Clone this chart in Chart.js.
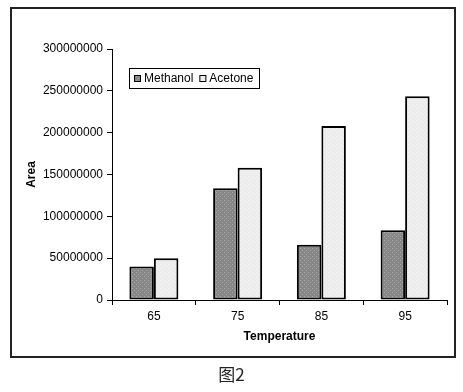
<!DOCTYPE html>
<html>
<head>
<meta charset="utf-8">
<script src="https://cdn.jsdelivr.net/npm/chart.js@4.4.0/dist/chart.umd.min.js"></script>
<style>
    body { margin: 0; background: #ffffff; width: 463px; height: 392px; overflow: hidden; position: relative; }
    #frame { position: absolute; left: 10px; top: 7px; width: 446px; height: 351px; box-sizing: border-box; border: 2px solid #222222; }
    #wrap { position: absolute; left: 0; top: 0; width: 463px; height: 392px; }
    #caption { position: absolute; left: 0; width: 463px; top: 364px; text-align: center; font-family: "Noto Sans CJK SC", sans-serif; font-size: 17px; color: #222; line-height: 20px; }
</style>
</head>
<body>
<div id="frame"></div>
<div id="wrap"><canvas id="chart" width="463" height="392"></canvas></div>
<div id="caption">图2</div>
<script>
const categories = ['65', '75', '85', '95'];
const methanol = [40000000, 133500000, 66000000, 83500000];
const acetone = [50000000, 158000000, 208000000, 243500000];
const yTicks = [0, 50000000, 100000000, 150000000, 200000000, 250000000, 300000000];

// точечная заливка как в Excel
function makePattern(base, dot) {
    let c = document.createElement('canvas');
    c.width = 4;
    c.height = 4;
    let g = c.getContext('2d');
    g.fillStyle = base;
    g.fillRect(0, 0, 4, 4);
    g.fillStyle = dot;
    g.fillRect(0, 0, 1, 1);
    g.fillRect(2, 2, 1, 1);
    return g.createPattern(c, 'repeat');
}

const methanolFill = makePattern('#878787', '#a8a8a8');
const acetoneFill = makePattern('#ececec', '#f7f7f7');

const fontFamily = '"Liberation Sans", Arial, sans-serif';

// легенда внутри области графика
const insideLegend = {
    id: 'insideLegend',
    afterDraw(chart) {
        const ctx = chart.ctx;
        const area = chart.chartArea;
        const x = area.left + 17;
        const y = area.top + 19;
        const w = 130;
        const h = 20;
        ctx.save();
        ctx.fillStyle = '#ffffff';
        ctx.fillRect(x, y, w, h);
        ctx.strokeStyle = '#000000';
        ctx.lineWidth = 1;
        ctx.strokeRect(x + 0.5, y + 0.5, w, h);
        ctx.font = '12px ' + fontFamily;
        ctx.textBaseline = 'middle';
        let cx = x + 5;
        chart.data.datasets.forEach(ds => {
            ctx.fillStyle = ds.backgroundColor;
            ctx.fillRect(cx, y + 7, 7, 7);
            ctx.strokeStyle = '#000000';
            ctx.strokeRect(cx + 0.5, y + 7.5, 6, 6);
            ctx.fillStyle = '#000000';
            ctx.fillText(ds.label, cx + 10, y + h / 2 + 1);
            cx += 10 + ctx.measureText(ds.label).width + 6;
        });
        ctx.restore();
    }
};

const ctx = document.getElementById('chart').getContext('2d');

new Chart(ctx, {
    type: 'bar',
    data: {
        labels: categories,
        datasets: [
            {
                label: 'Methanol',
                data: methanol,
                backgroundColor: methanolFill,
                borderColor: '#000000',
                borderWidth: 2,
                borderSkipped: false
            },
            {
                label: 'Acetone',
                data: acetone,
                backgroundColor: acetoneFill,
                borderColor: '#000000',
                borderWidth: 2,
                borderSkipped: false
            }
        ]
    },
    options: {
        responsive: false,
        animation: false,
        devicePixelRatio: 1,
        layout: {
            padding: { left: 10, right: 16, top: 49, bottom: 34 }
        },
        datasets: {
            bar: {
                categoryPercentage: 0.585,
                barPercentage: 1
            }
        },
        scales: {
            x: {
                afterFit: function(scale) { scale.height = 58; },
                grid: {
                    offset: true,
                    drawOnChartArea: false,
                    drawTicks: true,
                    tickLength: 5,
                    color: '#000000'
                },
                border: { color: '#000000', width: 1 },
                ticks: {
                    color: '#000000',
                    padding: 4,
                    font: { family: fontFamily, size: 12 }
                },
                title: {
                    display: true,
                    text: 'Temperature',
                    color: '#000000',
                    padding: { top: 0, bottom: 14 },
                    font: { family: fontFamily, size: 12, weight: 'bold' }
                }
            },
            y: {
                min: 0,
                max: 300000000,
                afterFit: function(scale) { scale.width = 102; },
                afterBuildTicks: function(scale) {
                    scale.ticks = yTicks.map(v => ({ value: v }));
                },
                grid: {
                    drawOnChartArea: false,
                    drawTicks: true,
                    tickLength: 5,
                    color: '#000000'
                },
                border: { color: '#000000', width: 1 },
                ticks: {
                    color: '#000000',
                    padding: 4,
                    font: { family: fontFamily, size: 12 },
                    callback: function(value) { return String(value); }
                },
                title: {
                    display: true,
                    text: 'Area',
                    color: '#000000',
                    padding: { top: 14, bottom: 0 },
                    font: { family: fontFamily, size: 12, weight: 'bold' }
                }
            }
        },
        plugins: {
            legend: { display: false },
            tooltip: { enabled: false }
        }
    },
    plugins: [insideLegend]
});
</script>
</body>
</html>
